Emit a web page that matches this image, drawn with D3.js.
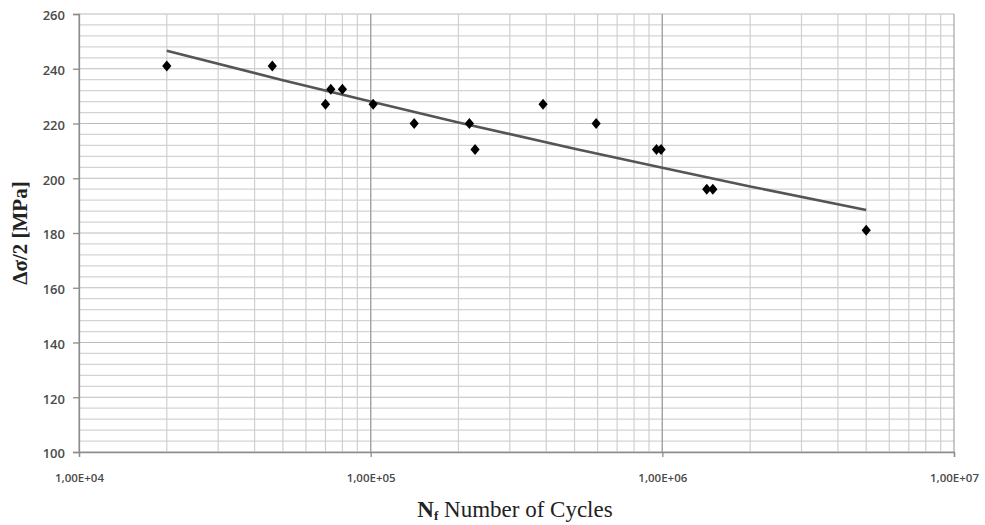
<!DOCTYPE html>
<html><head><meta charset="utf-8">
<script src="https://cdn.jsdelivr.net/npm/d3@7"></script>
<style>body{margin:0;background:#fff}svg{display:block}</style>
</head><body>
<script>
const cycles = [2.0e4, 4.6e4, 7.0e4, 7.3e4, 8.0e4, 1.02e5, 1.41e5, 2.18e5, 2.28e5, 3.9e5, 5.93e5, 9.55e5, 9.9e5, 1.42e6, 1.49e6, 5.0e6];
const stress = [241, 241, 227, 232.5, 232.5, 227, 220, 220, 210.5, 227, 220, 210.5, 210.5, 196, 196, 181];
// trend line points
const trendX = [2.0e4, 5.0e4, 1.0e5, 2.0e5, 5.0e5, 1.0e6, 2.0e6, 5.0e6];
const trendY = [246.6, 235.8, 228.0, 220.4, 210.8, 203.8, 197.0, 188.4];
const xTicks = [1e4, 1e5, 1e6, 1e7];
const xTickLabels = ["1,00E+04", "1,00E+05", "1,00E+06", "1,00E+07"];
const yTicks = [100, 120, 140, 160, 180, 200, 220, 240, 260];

const W = 985, H = 525;
const L = 79, R = 954, T = 14, B = 452;
const svg = d3.select("body").append("svg").attr("width", W).attr("height", H);
const x = d3.scaleLog().domain([1e4, 1e7]).range([L, R]);
const y = d3.scaleLinear().domain([100, 260]).range([B, T]);

// minor grid
const minorY = d3.range(100, 261, 4);
svg.append("g").selectAll("line").data(minorY).join("line")
  .attr("x1", L).attr("x2", R).attr("y1", d => y(d)).attr("y2", d => y(d))
  .attr("stroke", d => d % 20 === 0 ? "#bcbcbc" : "#d4d4d4").attr("stroke-width", 1.2);
const minorX = [];
[1e4, 1e5, 1e6].forEach(p => { for (let k = 1; k <= 10; k++) minorX.push(p * k); });
svg.append("g").selectAll("line").data(minorX).join("line")
  .attr("x1", d => x(d)).attr("x2", d => x(d)).attr("y1", T).attr("y2", B)
  .attr("stroke", (d, i) => (i % 10 === 0 || i % 10 === 9) ? "#a4a4a4" : "#d0d0d0").attr("stroke-width", 1.2);

// axes
const ya = svg.append("g").attr("transform", `translate(${L},0)`)
  .call(d3.axisLeft(y).tickValues(yTicks).tickSize(6).tickPadding(8));
const xa = svg.append("g").attr("transform", `translate(0,${B})`)
  .call(d3.axisBottom(x).tickValues(xTicks).tickFormat((d, i) => xTickLabels[i]).tickSize(5).tickPadding(17));
[ya, xa].forEach(g => {
  g.select(".domain").attr("stroke", "#8c8c8c").attr("stroke-width", 1.3);
  g.selectAll(".tick line").attr("stroke", "#8c8c8c").attr("stroke-width", 1.3);
  g.selectAll("text").attr("fill", "#4a4a4a").attr("font-family", "Open Sans, sans-serif").attr("font-weight", 600);
});
ya.selectAll("text").attr("font-size", 13).attr("dy", "0.45em");
xa.selectAll("text").attr("font-size", 11.5);

// trend line
const line = d3.line().x(d => x(d[0])).y(d => y(d[1])).curve(d3.curveMonotoneX);
svg.append("path").datum(trendX.map((v, i) => [v, trendY[i]]))
  .attr("d", line).attr("fill", "none").attr("stroke", "#555").attr("stroke-width", 2.6);

// markers
svg.append("g").selectAll("path").data(cycles.map((v, i) => [v, stress[i]])).join("path")
  .attr("transform", d => `translate(${x(d[0])},${y(d[1])})`)
  .attr("d", "M0,-5.5L4.6,0L0,5.5L-4.6,0Z").attr("fill", "#000");

// titles
const xt = svg.append("text").attr("x", 515).attr("y", 517).attr("text-anchor", "middle")
  .attr("font-family", "Liberation Serif, Times New Roman, serif").attr("font-size", 23).attr("fill", "#222");
xt.append("tspan").attr("font-weight", "bold").text("N");
xt.append("tspan").attr("font-weight", "bold").attr("font-size", 13).attr("dy", 3).text("f");
xt.append("tspan").attr("dy", -3).text(" Number of Cycles");

svg.append("text").attr("transform", `translate(27,${(T + B) / 2}) rotate(-90)`).attr("text-anchor", "middle")
  .attr("font-family", "Liberation Serif, Times New Roman, serif").attr("font-size", 21).attr("font-weight", "bold")
  .attr("fill", "#222").text("Δσ/2 [MPa]");
</script>
</body></html>
